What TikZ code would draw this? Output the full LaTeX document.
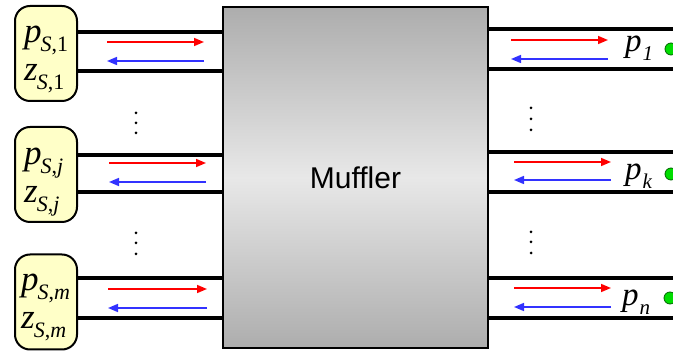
\documentclass[tikz,border=0pt]{standalone}
\usepackage{fontspec}
\setmainfont{Liberation Serif}
\newfontfamily\mufffont{Liberation Sans}
\usetikzlibrary{arrows.meta}
\definecolor{srcfill}{HTML}{FFFFC8}
\definecolor{redarr}{HTML}{FF0000}
\definecolor{bluearr}{HTML}{3232FF}
\definecolor{dotgreen}{HTML}{00DD00}
\definecolor{mufdark}{HTML}{ADADAD}
\definecolor{muflight}{HTML}{E8E8E8}
\newcommand{\lsub}[2]{\textit{#1}\kern-1pt\raisebox{-0.25em}{\fontsize{22}{22}\selectfont #2}}
\newcommand{\rsub}[2]{\textit{#1}\kern1pt\raisebox{-0.25em}{\fontsize{21}{21}\selectfont\itshape #2}}
\tikzset{
  srcbox/.style={draw=black, line width=2pt, fill=srcfill, rounded corners=15pt,
    minimum width=62pt, minimum height=95pt, inner sep=0pt},
  mufbox/.style={draw=black, line width=2.2pt, top color=mufdark, bottom color=mufdark,
    middle color=muflight, minimum width=265pt, minimum height=341pt, inner sep=0pt,
    font=\mufffont\fontsize{30}{30}\selectfont},
  pipe/.style={line width=3.5pt, black},
  fwd/.style={redarr, line width=1.5pt, -{Triangle[length=10pt,width=8pt]}},
  bwd/.style={bluearr, line width=1.5pt, -{Triangle[length=10pt,width=8pt]}},
  lab/.style={anchor=base west, inner sep=0pt, font=\fontsize{35}{35}\selectfont},
  rlab/.style={anchor=base west, inner sep=0pt, font=\fontsize{33}{33}\selectfont},
  gdot/.style={circle, fill=dotgreen, draw=black!60!green, line width=0.8pt, minimum size=12pt, inner sep=0pt},
  vdot/.style={circle, fill=black, minimum size=3pt, inner sep=0pt}
}
\begin{document}
\begin{tikzpicture}[x=1pt,y=-1pt]
\useasboundingbox (0,0) rectangle (673,352);
% muffler
\node[mufbox] (muf) at (355.5,177.5) {Muffler};
% source boxes
\node[srcbox] (s1) at (46,53.5) {};
\node[srcbox] (sj) at (46,174.5) {};
\node[srcbox] (sm) at (46,302) {};
% labels in source boxes
\node[lab] (p1l) at (24,43) {\lsub{p}{\textit{S},1}};
\node[lab] (z1l) at (24,81) {\lsub{z}{\textit{S},1}};
\node[lab] (pjl) at (24,165) {\lsub{p}{\textit{S},\textit{j}}};
\node[lab] (zjl) at (24,203) {\lsub{z}{\textit{S},\textit{j}}};
\node[lab] (pml) at (21,291) {\lsub{p}{\textit{S},\textit{m}}};
\node[lab] (zml) at (21,329) {\lsub{z}{\textit{S},\textit{m}}};
% left pipes
\draw[pipe] (s1.east |- 0,32) -- (muf.west |- 0,32);
\draw[pipe] (s1.east |- 0,71) -- (muf.west |- 0,71);
\draw[pipe] (sj.east |- 0,155) -- (muf.west |- 0,155);
\draw[pipe] (sj.east |- 0,192) -- (muf.west |- 0,192);
\draw[pipe] (sm.east |- 0,278) -- (muf.west |- 0,278);
\draw[pipe] (sm.east |- 0,318) -- (muf.west |- 0,318);
% right pipe ends
\coordinate (r1a) at (673,29);
\coordinate (r1b) at (673,69);
\coordinate (rka) at (673,152);
\coordinate (rkb) at (673,192);
\coordinate (rna) at (673,278);
\coordinate (rnb) at (673,318);
\draw[pipe] (muf.east |- r1a) -- (r1a);
\draw[pipe] (muf.east |- r1b) -- (r1b);
\draw[pipe] (muf.east |- rka) -- (rka);
\draw[pipe] (muf.east |- rkb) -- (rkb);
\draw[pipe] (muf.east |- rna) -- (rna);
\draw[pipe] (muf.east |- rnb) -- (rnb);
% left arrows
\coordinate (la1) at (107,42);  \coordinate (lb1) at (204,42);
\coordinate (la2) at (107,61);  \coordinate (lb2) at (204,61);
\coordinate (la3) at (109,163); \coordinate (lb3) at (206,163);
\coordinate (la4) at (109,182); \coordinate (lb4) at (206,182);
\coordinate (la5) at (108,289); \coordinate (lb5) at (207,289);
\coordinate (la6) at (108,308); \coordinate (lb6) at (207,308);
\draw[fwd] (la1) -- (lb1);
\draw[bwd] (lb2) -- (la2);
\draw[fwd] (la3) -- (lb3);
\draw[bwd] (lb4) -- (la4);
\draw[fwd] (la5) -- (lb5);
\draw[bwd] (lb6) -- (la6);
% right arrows
\coordinate (ra1) at (511,40);  \coordinate (rb1) at (608,40);
\coordinate (ra2) at (511,59);  \coordinate (rb2) at (608,59);
\coordinate (ra3) at (514,162); \coordinate (rb3) at (611,162);
\coordinate (ra4) at (514,180); \coordinate (rb4) at (611,180);
\coordinate (ra5) at (514,288); \coordinate (rb5) at (611,288);
\coordinate (ra6) at (514,307); \coordinate (rb6) at (611,307);
\draw[fwd] (ra1) -- (rb1);
\draw[bwd] (rb2) -- (ra2);
\draw[fwd] (ra3) -- (rb3);
\draw[bwd] (rb4) -- (ra4);
\draw[fwd] (ra5) -- (rb5);
\draw[bwd] (rb6) -- (ra6);
% right labels
\node[rlab] (p1r) at (625,52) {\rsub{p}{1}};
\node[rlab] (pkr) at (625,180) {\rsub{p}{k}};
\node[rlab] (pnr) at (622,306) {\rsub{p}{n}};
% green dots
\node[gdot] (g1) at (671,49) {};
\node[gdot] (gk) at (671,174) {};
\node[gdot] (gn) at (670,298) {};
% vertical dots
\foreach \x/\y [count=\i] in {136/113,136/123,136/133,136/233,136/243,136/254,531/108,531/119,531/130,531/232,531/242,531/253}
  \node[vdot] (vd\i) at (\x,\y) {};
\end{tikzpicture}
\end{document}
